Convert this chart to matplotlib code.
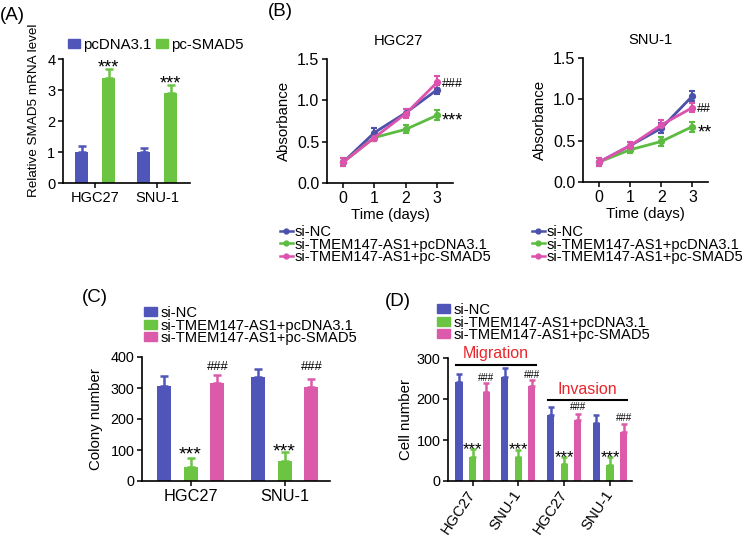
import matplotlib
matplotlib.use("Agg")
import matplotlib.pyplot as plt
import numpy as np
from matplotlib.lines import Line2D
from matplotlib.patches import Patch

plt.rcParams['font.family'] = ['Liberation Sans', 'DejaVu Sans']
plt.rcParams['axes.linewidth'] = 1.2
plt.rcParams['xtick.major.width'] = 1.1
plt.rcParams['ytick.major.width'] = 1.1
plt.rcParams['xtick.major.size'] = 3.5
plt.rcParams['ytick.major.size'] = 3.5

# ---------------- data ----------------
A_groups = ['HGC27', 'SNU-1']
A_pcdna = [1.0, 1.0]
A_pcdna_err = [0.19, 0.14]
A_smad5 = [3.38, 2.91]
A_smad5_err = [0.29, 0.25]
A_star_y = [3.90, 3.40]

B_days = [0, 1, 2, 3]
B_hgc_nc = [0.25, 0.61, 0.85, 1.13]
B_hgc_nc_err = [0.05, 0.05, 0.05, 0.05]
B_hgc_pc = [0.25, 0.55, 0.65, 0.82]
B_hgc_pc_err = [0.05, 0.04, 0.05, 0.06]
B_hgc_sm = [0.25, 0.55, 0.84, 1.22]
B_hgc_sm_err = [0.05, 0.04, 0.05, 0.07]
B_snu_nc = [0.24, 0.44, 0.65, 1.04]
B_snu_nc_err = [0.05, 0.04, 0.06, 0.06]
B_snu_pc = [0.24, 0.39, 0.49, 0.67]
B_snu_pc_err = [0.05, 0.04, 0.05, 0.06]
B_snu_sm = [0.24, 0.44, 0.69, 0.90]
B_snu_sm_err = [0.05, 0.04, 0.06, 0.05]

C_groups = ['HGC27', 'SNU-1']
C_nc = [307, 336]
C_nc_err = [32, 25]
C_pc = [46, 64]
C_pc_err = [27, 28]
C_sm = [315, 302]
C_sm_err = [26, 27]
C_star_y = [106, 114]
C_hash_y = [372, 372]

D_groups = ['HGC27', 'SNU-1', 'HGC27', 'SNU-1']
D_nc = [241, 253, 160, 141]
D_nc_err = [21, 23, 20, 19]
D_pc = [58, 59, 42, 39]
D_pc_err = [20, 17, 16, 19]
D_sm = [218, 232, 149, 120]
D_sm_err = [21, 15, 15, 19]
D_star_y = [90, 90, 69, 69]
D_hash_y = [252, 259, 181, 154]

leg3 = ['si-NC', 'si-TMEM147-AS1+pcDNA3.1', 'si-TMEM147-AS1+pc-SMAD5']

BLUE = '#5055ba'
GREEN = '#6cc443'
PINK = '#db5aaa'
LBLUE = '#4c51aa'
LGREEN = '#5cbc42'
LPINK = '#dc52ae'
RED = '#e8262b'

W, H = 751, 536
fig = plt.figure(figsize=(W / 100, H / 100), dpi=100)


def px_axes(l, t, r, b):
    return fig.add_axes([l / W, 1 - b / H, (r - l) / W, (b - t) / H])


def style(ax):
    for s in ['top', 'right']:
        ax.spines[s].set_visible(False)
    ax.tick_params(direction='out', pad=2, colors='black')


def mark(ax, x, y, s, fs, dx=0.0, ha='center'):
    k = 0.58 if s[0] == '*' else 0.35
    ax.annotate(s, (x, y), xytext=(dx, -k * fs), textcoords='offset points',
                ha=ha, va='baseline', fontsize=fs, annotation_clip=False)


def bars(ax, pos, vals, errs, color, width, capsize):
    ax.bar(pos, vals, width=width, color=color, zorder=2)
    ax.errorbar(pos, vals, yerr=[np.zeros(len(vals)), errs], fmt='none',
                ecolor=color, elinewidth=1.8, capsize=capsize, capthick=1.8, zorder=1)


LEGKW = dict(frameon=False, fontsize=10.6, borderpad=0, borderaxespad=0,
             labelspacing=-0.1, bbox_transform=fig.transFigure, loc='upper left')

# ---------------- Panel A ----------------
axA = px_axes(63, 59, 190, 183)
style(axA)
xa = np.arange(len(A_groups))
bars(axA, xa - 0.218, A_pcdna, A_pcdna_err, BLUE, 0.21, 3)
bars(axA, xa + 0.218, A_smad5, A_smad5_err, GREEN, 0.21, 3)
axA.set_xlim(-0.52, 1.53)
axA.set_ylim(0, 4)
axA.set_yticks([0, 1, 2, 3, 4])
axA.set_xticks(xa)
axA.set_xticklabels(A_groups, fontsize=10.5)
axA.tick_params(axis='y', labelsize=10.5)
for i in range(len(A_groups)):
    mark(axA, xa[i] + 0.218, A_star_y[i], '***', 13)
axA.set_ylabel('Relative SMAD5 mRNA level', fontsize=9.7)
axA.yaxis.set_label_coords(-0.185, 0.585)
axA.legend([Patch(color=BLUE), Patch(color=GREEN)], ['pcDNA3.1', 'pc-SMAD5'],
           ncol=2, loc='center left', bbox_to_anchor=(68 / W, 1 - 45 / H),
           bbox_transform=fig.transFigure, frameon=False, fontsize=10.8,
           handlelength=0.8, handleheight=0.6, handletextpad=0.2, columnspacing=0.3,
           borderpad=0, borderaxespad=0)

# ---------------- Panel B ----------------
def line_panel(ax, title, tx, series, annots):
    style(ax)
    for vals, errs, col in series:
        ax.errorbar(B_days, vals, yerr=errs, color=col, lw=2.0, marker='o', ms=4.2,
                    elinewidth=1.5, capsize=2.5, capthick=1.5)
    ax.set_xlim(-0.51, 3.5)
    ax.set_ylim(0, 1.5)
    ax.set_xticks(B_days)
    ax.set_yticks([0.0, 0.5, 1.0, 1.5])
    ax.set_yticklabels(['0.0', '0.5', '1.0', '1.5'])
    ax.tick_params(labelsize=11.5)
    ax.set_xlabel('Time (days)', fontsize=10.8)
    ax.xaxis.set_label_coords(0.5, -0.2)
    ax.set_ylabel('Absorbance', fontsize=10.8)
    ax.yaxis.set_label_coords(-0.285, 0.5)
    ax.text(tx, 1.0 + 14 / 124, title, transform=ax.transAxes, ha='center',
            va='baseline', fontsize=10.6)
    for y, s in annots:
        mark(ax, 3, y, s, 13 if s[0] == '*' else 9, dx=3.5, ha='left')


axB1 = px_axes(327, 59, 453, 183)
line_panel(axB1, 'HGC27', 0.563,
           [(B_hgc_nc, B_hgc_nc_err, LBLUE), (B_hgc_pc, B_hgc_pc_err, LGREEN),
            (B_hgc_sm, B_hgc_sm_err, LPINK)],
           [(B_hgc_sm[3], '###'), (B_hgc_pc[3], '***')])
axB2 = px_axes(583, 58, 708, 182)
line_panel(axB2, 'SNU-1', 0.536,
           [(B_snu_nc, B_snu_nc_err, LBLUE), (B_snu_pc, B_snu_pc_err, LGREEN),
            (B_snu_sm, B_snu_sm_err, LPINK)],
           [(B_snu_sm[3], '##'), (B_snu_pc[3], '**')])

line_handles = [Line2D([], [], color=c, lw=1.8, marker='o', ms=3.5) for c in (LBLUE, LGREEN, LPINK)]
for lx in (280, 532):
    fig.legend(line_handles, leg3, bbox_to_anchor=(lx / W, 1 - 225 / H),
               handlelength=0.85, handletextpad=0.15, **LEGKW)

# ---------------- Panel C ----------------
axC = px_axes(142, 357, 330, 481)
style(axC)
xc = np.arange(len(C_groups))
bw = 0.149
st = 0.287
bars(axC, xc - st, C_nc, C_nc_err, BLUE, bw, 3)
bars(axC, xc, C_pc, C_pc_err, GREEN, bw, 3)
bars(axC, xc + st, C_sm, C_sm_err, PINK, bw, 3)
axC.set_xlim(-0.516, 1.484)
axC.set_ylim(0, 400)
axC.set_yticks([0, 100, 200, 300, 400])
axC.set_xticks(xc)
axC.set_xticklabels(C_groups, fontsize=11.7)
axC.tick_params(axis='y', labelsize=10.4)
for i in range(len(C_groups)):
    mark(axC, xc[i], C_star_y[i], '***', 14)
    mark(axC, xc[i] + st, C_hash_y[i], '###', 9.4)
axC.set_ylabel('Colony number', fontsize=10.8)
axC.yaxis.set_label_coords(-0.207, 0.5)
patch_handles = [Patch(color=c) for c in (BLUE, GREEN, PINK)]
axC.legend(patch_handles, leg3, bbox_to_anchor=(144 / W, 1 - 306 / H),
           handlelength=0.85, handleheight=0.55, handletextpad=0.25, **LEGKW)

# ---------------- Panel D ----------------
axD = px_axes(448, 358, 632, 481)
style(axD)
xd = np.arange(len(D_groups))
bwd = 0.153
std = 0.295
bars(axD, xd - std, D_nc, D_nc_err, BLUE, bwd, 2)
bars(axD, xd, D_pc, D_pc_err, GREEN, bwd, 2)
bars(axD, xd + std, D_sm, D_sm_err, PINK, bwd, 2)
axD.set_xlim(-0.535, 3.48)
axD.set_ylim(0, 300)
axD.set_yticks([0, 100, 200, 300])
axD.set_xticks(xd)
axD.set_xticklabels(D_groups, fontsize=10.7, rotation=56, ha='right', va='center',
                    rotation_mode='anchor')
axD.tick_params(axis='x', pad=4)
axD.tick_params(axis='y', labelsize=10.4)
for i in range(len(D_groups)):
    mark(axD, xd[i], D_star_y[i], '***', 12)
    mark(axD, xd[i] + std, D_hash_y[i], '###', 7)
axD.plot([-0.36, 1.38], [283, 283], color='black', lw=1.5, clip_on=False)
axD.plot([1.64, 3.38], [198, 198], color='black', lw=1.5, clip_on=False)
axD.text(0.5, 312, 'Migration', color=RED, fontsize=11.5, ha='center', va='center')
axD.text(2.5, 224, 'Invasion', color=RED, fontsize=11.5, ha='center', va='center')
axD.set_ylabel('Cell number', fontsize=10.8)
axD.yaxis.set_label_coords(-0.19, 0.5)
axD.legend(patch_handles, leg3, bbox_to_anchor=(437 / W, 1 - 303 / H),
           handlelength=0.85, handleheight=0.55, handletextpad=0.25, **LEGKW)

# ---------------- panel labels ----------------
for x, y, s in [(0, 15, '(A)'), (268, 12, '(B)'), (82, 298, '(C)'), (385, 302, '(D)')]:
    fig.text(x / W, 1 - y / H, s, fontsize=13.5, ha='left', va='center')

fig.savefig('out.png', dpi=100)
